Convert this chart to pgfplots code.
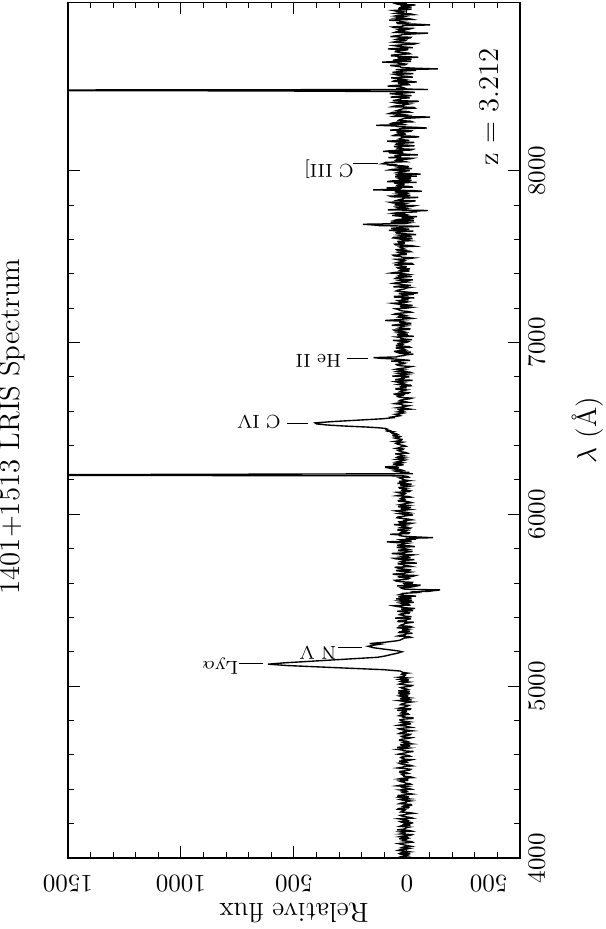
\documentclass[border=0pt]{standalone}
\usepackage{pgfplots}
\pgfplotsset{compat=1.18}
\usepackage{pgfplotstable}
\pgfplotstableread{
lam flux
3992 14
3996 -20
4000 -8
4004 35
4008 27
4012 -5
4016 3
4020 18
4024 -15
4028 30
4032 22
4036 -12
4040 8
4044 40
4048 31
4052 2
4056 -12
4060 25
4064 17
4068 -18
4072 -4
4076 12
4080 25
4084 38
4088 6
4092 -25
4096 -19
4100 20
4104 12
4108 5
4112 35
4116 -8
4120 -2
4124 33
4128 18
4132 -15
4136 -22
4140 28
4144 9
4148 10
4152 28
4156 -22
4160 -10
4164 44
4168 15
4172 6
4176 4
4180 -10
4184 33
4188 24
4192 -16
4196 15
4200 11
4204 -28
4208 24
4212 31
4216 -7
4220 0
4224 19
4228 36
4232 -25
4236 -14
4240 6
4244 22
4248 30
4252 9
4256 2
4260 -30
4264 -13
4268 27
4272 21
4276 13
4280 8
4284 42
4288 38
4292 -6
4296 -9
4300 19
4304 14
4308 -20
4312 -18
4316 34
4320 26
4324 4
4328 5
4332 -16
4336 16
4340 29
4344 -11
4348 11
4352 29
4356 -9
4360 40
4364 39
4368 7
4372 -24
4376 -6
4380 17
4384 23
4388 3
4392 12
4396 30
4400 -20
4404 -11
4408 18
4412 23
4416 3
4420 45
4424 27
4428 -19
4432 -14
4436 8
4440 10
4444 26
4448 34
4452 -3
4456 -3
4460 37
4464 20
4468 -27
4472 -17
4476 14
4480 13
4484 21
4488 25
4492 -7
4496 1
4500 32
4504 31
4508 6
4512 -12
4516 -17
4520 7
4524 41
4528 22
4532 12
4536 -24
4540 -13
4544 15
4548 28
4552 36
4556 -1
4560 4
4564 35
4568 -8
4572 -22
4576 19
4580 16
4584 28
4588 24
4592 -15
4596 -9
4600 11
4604 38
4608 24
4612 5
4616 -5
4620 -29
4624 17
4628 20
4632 42
4636 10
4640 -10
4644 43
4648 9
4652 -15
4656 26
4660 27
4664 -21
4668 1
4672 14
4676 -6
4680 3
4684 33
4688 32
4692 18
4696 -7
4700 -20
4704 20
4708 25
4712 8
4716 -12
4720 -16
4724 36
4728 29
4732 7
4736 12
4740 -24
4744 -2
4748 30
4752 37
4756 14
4760 -19
4764 -4
4768 6
4772 40
4776 23
4780 -18
4784 10
4788 22
4792 -11
4796 9
4800 30
4804 31
4808 16
4812 -26
4816 -26
4820 17
4824 13
4828 35
4832 27
4836 -8
4840 -4
4844 26
4848 21
4852 3
4856 5
4860 44
4864 -15
4868 -16
4872 34
4876 19
4880 9
4884 -2
4888 -9
4892 29
4896 25
4900 11
4904 2
4908 -21
4912 18
4916 37
4920 -20
4924 6
4928 31
4932 -11
4936 11
4940 24
4944 -6
4948 32
4952 22
4956 -14
4960 39
4964 15
4968 -13
4972 39
4976 15
4980 -5
4984 4
4988 21
4992 28
4996 8
5000 -17
5004 -23
5008 12
5012 34
5016 24
5020 12
5024 -8
5028 27
5032 19
5036 -9
5040 33
5044 18
5048 -3
5052 36
5056 16
5060 10
5064 7
5068 25
5072 22
5076 -3
5080 18
5088 30
5096 105
5104 250
5112 390
5120 530
5128 615
5136 540
5144 437
5152 335
5160 234
5168 130
5176 95
5184 70
5192 42
5200 22
5204 35
5208 55
5212 80
5216 105
5224 150
5228 160
5232 172
5236 155
5240 140
5244 120
5248 165
5252 130
5256 95
5260 70
5264 45
5268 30
5272 25
5280 12
5284 -18
5288 -10
5292 40
5296 28
5300 7
5304 5
5308 -25
5312 36
5316 33
5320 -14
5324 20
5328 19
5332 -8
5336 8
5340 46
5344 -22
5348 -14
5352 31
5356 26
5360 14
5364 11
5368 -5
5372 -30
5376 40
5380 38
5384 2
5388 2
5392 -18
5396 52
5400 23
5404 -20
5408 11
5412 15
5416 34
5420 29
5424 -9
5428 -11
5432 17
5436 43
5440 -27
5444 5
5448 26
5452 -36
5456 6
5460 24
5464 45
5468 60
5472 -12
5476 -9
5480 20
5484 31
5488 -30
5492 13
5496 33
5500 -22
5504 9
5508 48
5512 -20
5516 0
5520 38
5524 -40
5528 3
5532 35
5536 24
5540 19
5544 -35
5548 -15
5552 -97
5556 -120
5560 -146
5564 8
5568 21
5572 27
5576 -15
5580 -31
5584 44
5588 -60
5592 8
5596 12
5600 -24
5604 -25
5608 30
5612 50
5616 55
5620 16
5624 -6
5628 -12
5632 18
5636 41
5640 -28
5644 -38
5648 37
5652 63
5656 12
5660 3
5664 -16
5668 22
5672 49
5676 -19
5680 4
5684 34
5688 26
5692 55
5696 -21
5700 -7
5704 15
5708 18
5712 41
5716 -44
5720 -11
5724 30
5728 22
5732 9
5736 -33
5740 47
5744 58
5748 -16
5752 7
5756 25
5760 -8
5764 -28
5768 28
5772 68
5776 13
5780 1
5784 -25
5788 37
5792 36
5796 -5
5800 10
5804 21
5808 46
5812 -35
5816 -14
5820 44
5824 20
5828 14
5832 -4
5836 53
5840 89
5844 -20
5848 18
5852 29
5856 -40
5860 6
5864 -115
5868 -47
5872 12
5876 32
5880 30
5884 74
5888 -7
5892 -10
5896 24
5900 17
5904 3
5908 39
5912 39
5916 -13
5920 -17
5924 26
5928 16
5932 4
5936 27
5940 58
5944 -9
5948 -23
5952 33
5956 36
5960 6
5964 11
5968 -22
5972 -8
5976 21
5980 45
5984 42
5988 19
5992 0
5996 -27
6000 14
6004 33
6008 -13
6012 2
6016 35
6020 51
6024 10
6028 -14
6032 25
6036 24
6040 -18
6044 40
6048 17
6052 -6
6056 31
6060 15
6064 4
6068 -21
6072 -10
6076 37
6080 38
6084 8
6088 13
6092 28
6096 22
6100 -17
6104 -6
6108 46
6112 29
6116 12
6120 8
6124 31
6128 44
6132 -9
6136 -15
6140 22
6144 19
6148 3
6152 33
6156 35
6160 2
6164 -15
6168 26
6172 27
6176 -20
6180 42
6184 15
6188 7
6192 36
6196 -11
6200 11
6204 20
6208 24
6212 33
6216 -8
6220 -4
6224 18
6228 2200
6232 1160
6236 -27
6240 30
6244 -10
6248 45
6252 55
6256 20
6260 30
6264 60
6268 75
6272 35
6276 97
6280 50
6284 40
6288 15
6292 62
6296 38
6300 20
6304 48
6308 35
6312 20
6316 8
6320 45
6324 27
6328 10
6332 44
6336 38
6340 12
6344 25
6348 30
6352 52
6356 -2
6360 5
6364 25
6368 33
6372 40
6376 18
6380 15
6384 47
6388 33
6392 28
6396 5
6400 12
6404 28
6408 41
6412 48
6416 30
6420 18
6424 55
6428 36
6432 24
6436 22
6440 44
6444 55
6448 35
6452 30
6456 60
6460 62
6464 40
6468 46
6472 66
6476 70
6480 60
6484 85
6488 78
6492 92
6496 88
6500 97
6504 130
6508 180
6514 280
6520 355
6526 400
6532 407
6540 325
6548 217
6556 109
6562 62
6566 70
6570 48
6574 30
6578 38
6582 52
6586 30
6590 14
6593 26
6596 40
6600 18
6604 30
6608 35
6612 -15
6616 6
6620 45
6624 27
6628 8
6632 -8
6636 22
6640 22
6644 55
6648 40
6652 -6
6656 10
6660 35
6664 30
6668 14
6672 -12
6676 -22
6680 25
6684 40
6688 44
6692 18
6696 14
6700 60
6704 -5
6708 -10
6712 33
6716 28
6720 19
6724 3
6728 48
6732 48
6736 2
6740 25
6744 28
6748 -18
6752 -15
6756 37
6760 21
6764 11
6768 37
6772 52
6776 9
6780 -25
6784 52
6788 31
6792 15
6796 20
6800 -10
6804 65
6808 30
6812 0
6816 24
6820 39
6824 -20
6828 -12
6832 41
6836 27
6840 12
6844 50
6848 35
6852 9
6856 -6
6860 -20
6864 26
6868 43
6872 47
6876 16
6880 8
6884 33
6888 31
6892 70
6896 -14
6900 24
6904 55
6908 120
6912 148
6916 46
6920 38
6924 13
6928 5
6932 -28
6936 29
6940 38
6944 -18
6948 58
6952 36
6956 5
6960 13
6964 30
6968 50
6972 -15
6976 -9
6980 49
6984 24
6988 19
6992 40
6996 35
7000 3
7004 -5
7008 32
7012 62
7016 -22
7020 12
7024 27
7028 28
7032 45
7036 -30
7040 11
7044 44
7048 -4
7052 21
7056 38
7060 7
7064 20
7068 53
7072 58
7076 -11
7080 -12
7084 36
7088 26
7092 26
7096 7
7100 68
7104 43
7108 -16
7112 -16
7116 32
7120 30
7124 15
7128 97
7132 47
7136 18
7140 -24
7144 -8
7148 40
7152 34
7156 3
7160 15
7164 58
7168 49
7172 18
7176 -19
7180 -9
7184 23
7188 34
7192 39
7196 50
7200 2
7204 -20
7208 28
7212 29
7216 -25
7220 11
7224 44
7228 64
7232 12
7236 -3
7240 33
7244 41
7248 -7
7252 22
7256 21
7260 -33
7264 54
7268 55
7272 6
7276 14
7280 -30
7284 37
7288 -49
7292 -12
7296 25
7300 48
7304 41
7308 27
7312 10
7316 6
7320 -13
7324 60
7328 36
7332 -18
7336 19
7340 33
7344 61
7348 45
7352 -5
7356 9
7360 27
7364 -26
7368 8
7372 52
7376 46
7380 20
7384 -21
7388 38
7392 31
7396 -7
7400 14
7404 71
7408 52
7412 16
7416 -11
7420 30
7424 24
7428 -14
7432 39
7436 43
7440 1
7444 25
7448 29
7452 56
7456 -26
7460 -22
7464 47
7468 35
7472 16
7476 10
7480 35
7484 49
7488 -9
7492 -30
7496 22
7500 28
7504 57
7508 62
7512 4
7516 4
7520 30
7524 39
7528 -17
7532 -10
7536 42
7540 46
7544 11
7548 19
7552 26
7556 33
7560 -35
7564 -17
7568 50
7572 54
7576 13
7580 12
7584 38
7588 40
7592 -12
7596 8
7600 24
7604 -25
7608 63
7612 60
7616 -20
7620 15
7624 33
7628 -40
7632 6
7636 45
7640 48
7644 28
7648 -28
7652 80
7656 29
7660 -10
7664 70
7668 35
7672 15
7676 -55
7680 120
7684 150
7688 195
7692 8
7696 -10
7700 72
7704 37
7708 -30
7712 52
7716 40
7720 -31
7724 20
7728 21
7732 -45
7736 44
7740 65
7744 2
7748 12
7752 60
7756 38
7760 -45
7764 -20
7768 -93
7772 85
7776 27
7780 5
7784 40
7788 48
7792 -22
7796 -35
7800 55
7804 30
7808 12
7812 62
7816 75
7820 -15
7824 -38
7828 42
7832 31
7836 18
7840 18
7844 -50
7848 66
7852 75
7856 -15
7860 24
7864 42
7868 0
7872 8
7876 55
7880 -66
7884 -28
7888 150
7892 36
7896 30
7900 90
7904 -27
7908 -8
7912 46
7916 44
7920 14
7924 14
7928 58
7932 -42
7936 88
7940 68
7944 -20
7948 26
7952 35
7956 -18
7960 22
7964 52
7968 -44
7972 33
7976 51
7980 -60
7984 9
7988 47
7992 38
7996 10
8000 -12
8004 78
8008 64
8012 -22
8016 25
8020 39
8024 -8
8028 21
8032 72
8036 60
8040 110
8044 100
8048 96
8052 6
8056 20
8060 50
8064 45
8068 -12
8072 -25
8076 82
8080 33
8084 29
8088 56
8092 -48
8096 6
8100 41
8104 80
8108 16
8112 106
8116 70
8120 -18
8124 -26
8128 41
8132 35
8136 27
8140 58
8144 -33
8148 -5
8152 49
8156 46
8160 15
8164 -33
8168 62
8172 88
8176 -10
8180 19
8184 36
8188 27
8192 24
8196 -54
8200 -28
8204 61
8208 53
8212 8
8216 10
8220 43
8224 44
8228 -16
8232 -20
8236 74
8240 31
8244 32
8248 -88
8252 -40
8256 40
8260 53
8264 137
8268 11
8272 22
8276 67
8280 58
8284 -24
8288 -15
8292 38
8296 34
8300 22
8304 12
8308 -46
8312 -102
8316 59
8320 47
8324 4
8328 26
8332 80
8336 70
8340 -14
8344 -5
8348 49
8352 38
8356 30
8360 17
8364 -36
8368 -30
8372 66
8376 55
8380 15
8384 9
8388 -9
8392 42
8396 57
8400 -22
8404 -52
8408 63
8412 42
8416 28
8420 25
8424 -12
8428 72
8432 46
8436 -20
8440 15
8444 34
8448 77
8452 9
8456 -35
8460 20
8464 640
8468 2400
8472 -93
8476 48
8480 10
8484 18
8488 30
8492 86
8496 52
8500 -11
8504 -8
8508 37
8512 37
8516 -44
8520 61
8524 55
8528 4
8532 23
8536 44
8540 70
8544 -26
8548 -6
8552 29
8556 41
8560 56
8564 -28
8568 12
8572 64
8576 38
8580 13
8584 -40
8588 50
8592 -137
8596 -38
8600 25
8604 29
8608 48
8612 76
8616 7
8620 2
8624 34
8628 45
8632 110
8636 -18
8640 60
8644 58
8648 -20
8652 20
8656 42
8660 -50
8664 18
8668 68
8672 68
8676 31
8680 -14
8684 -8
8688 33
8692 52
8696 51
8700 14
8704 -6
8708 84
8712 40
8716 -26
8720 14
8724 40
8728 59
8732 24
8736 -31
8740 -42
8744 27
8748 61
8752 45
8756 7
8760 3
8764 47
8768 36
8772 -15
8776 -18
8780 73
8784 53
8788 28
8792 21
8796 -34
8800 -93
8804 56
8808 47
8812 11
8816 30
8820 38
8824 -12
8828 -22
8832 56
8836 65
8840 19
8844 19
8848 -102
8852 -47
8856 42
8860 44
8864 8
8868 30
8872 33
8876 79
8880 -25
8884 -12
8888 50
8892 36
8896 15
8900 53
8904 38
8908 -30
8912 -15
8916 48
8920 29
8924 16
8928 47
8932 62
8936 6
8940 -20
8944 35
8948 33
8952 -20
8956 25
8960 26
8964 -38
8968 41
8972 50
8976 10
8980 12
8984 22
}\spectrum
\begin{document}
\begin{tikzpicture}
\begin{axis}[
  at={(0pt,0pt)}, anchor=south west,
  scale only axis, width=180.8pt, height=342.3pt,
  x dir=reverse,
  xmin=-500, xmax=1500, ymin=4000, ymax=8980,
  xtick={-500,0,500,1000,1500},
  xticklabels={\hspace*{25pt}500,0,500,1000,1500},
  minor x tick num=4,
  ytick={4000,5000,6000,7000,8000},
  minor y tick num=4,
  tick align=inside,
  xtick pos=both, ytick pos=both,
  xticklabel pos=left, yticklabel pos=right,
  major tick length=4.8pt, minor tick length=2.4pt,
  axis line style={line width=0.45pt},
  every tick/.style={black, line width=0.4pt},
  x tick label style={rotate=180, anchor=base, font=\fontsize{10}{12}\selectfont},
  xticklabel shift=7.2pt,
  y tick label style={rotate=90, anchor=base, font=\fontsize{10}{12}\selectfont,
    /pgf/number format/1000 sep={}},
  yticklabel shift=10pt,
  scaled ticks=false,
]
\addplot[black, line width=0.55pt, mark=none] table[x=flux, y=lam] {\spectrum};
% line identifications
\draw[line width=0.4pt] (axis cs:743,5134) -- (axis cs:637,5134);
\node[rotate=180, font=\fontsize{7.5}{9}\selectfont] at (axis cs:827,5118) {Ly$\alpha$};
\draw[line width=0.4pt] (axis cs:305,5227) -- (axis cs:199,5227);
\node[rotate=180, font=\fontsize{7.5}{9}\selectfont] at (axis cs:394,5194) {N V};
\draw[line width=0.4pt] (axis cs:531,6531) -- (axis cs:438,6531);
\node[rotate=180, font=\fontsize{7.5}{9}\selectfont] at (axis cs:655,6535) {C IV};
\draw[line width=0.4pt] (axis cs:265,6909) -- (axis cs:173,6909);
\node[rotate=180, font=\fontsize{7.5}{9}\selectfont] at (axis cs:392,6894) {He II};
\draw[line width=0.4pt] (axis cs:239,8041) -- (axis cs:128,8041);
\node[rotate=180, font=\fontsize{7.5}{9}\selectfont] at (axis cs:345,8006) {C III]};
\node[rotate=90, font=\fontsize{11.5}{13}\selectfont] at (axis cs:-363,8372) {z = 3.212};
\end{axis}
\node[rotate=90, anchor=base, font=\fontsize{11.5}{13}\selectfont] at (-19.2pt,172.6pt) {1401+1513 LRIS Spectrum};
\node[rotate=180, anchor=base, font=\fontsize{11}{13}\selectfont] at (90.4pt,-18pt) {Relative flux};
\node[rotate=90, anchor=base, font=\fontsize{11}{13}\selectfont] at (211.2pt,171.2pt) {$\lambda$ (\AA)};
\pgfresetboundingbox
\path[use as bounding box] (-27.2pt,-28.4pt) rectangle (214.8pt,343.2pt);
\end{tikzpicture}
\end{document}
